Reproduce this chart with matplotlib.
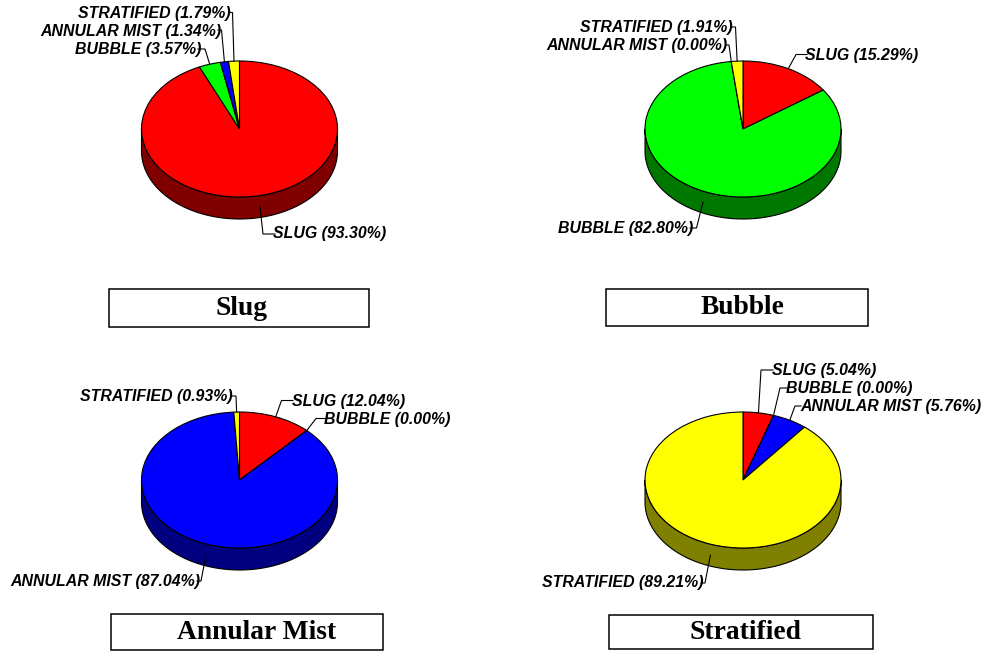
import numpy as np
import matplotlib
matplotlib.use("Agg")
import matplotlib.pyplot as plt
from matplotlib.patches import Rectangle

W, H = 982, 652

# Flow regime shares (percent) per test set, in clockwise order from 12 o'clock
regimes = ["SLUG", "BUBBLE", "ANNULAR MIST", "STRATIFIED"]
slug_values = [93.30, 3.57, 1.34, 1.79]
bubble_values = [15.29, 82.80, 0.00, 1.91]
annular_values = [12.04, 0.00, 87.04, 0.93]
stratified_values = [5.04, 0.00, 5.76, 89.21]
titles = ["Slug", "Bubble", "Annular Mist", "Stratified"]
top_colors = ["#ff0000", "#00ff00", "#0000ff", "#ffff00"]
side_colors = ["#800000", "#007800", "#000080", "#808000"]

RX, RY, DEPTH = 98, 68, 22
LW = 0.8

# Per-panel layout, in pixels from the top-left corner
panels = [
    dict(values=slug_values, cx=239.5, cy=129,
         box=(109.5, 288.5, 369.5, 327), title_at=(242, 308.5),
         # (text x, text y, ha, elbow x, elbow y, stub end x)
         labels=[(273, 233.5, "left", 263, 234, 275),
                 (201, 49.5, "right", 205, 49, 198),
                 (221, 31.5, "right", 221.5, 30, 218),
                 (231, 13.5, "right", 232.5, 12.5, 229)]),
    dict(values=bubble_values, cx=743, cy=129,
         box=(606.5, 288.5, 868, 325.5), title_at=(743, 307.5),
         labels=[(805, 55.5, "left", 796, 54.5, 807),
                 (693, 228.5, "right", 696.5, 228, 690),
                 (727, 45.5, "right", 729, 45, 726),
                 (733, 27.5, "right", 735.5, 27, 732)]),
    dict(values=annular_values, cx=239.5, cy=480,
         box=(111, 614, 383.5, 650), title_at=(256.5, 632.5),
         labels=[(292, 401.5, "left", 281.5, 400.5, 293),
                 (324, 419.5, "left", 316, 418.5, 326),
                 (200, 581.5, "right", 201, 581, 197),
                 (233, 396.5, "right", 236, 396, 232)]),
    dict(values=stratified_values, cx=743, cy=480,
         box=(609.5, 614.5, 873, 649), title_at=(745.5, 632.5),
         labels=[(772, 370.5, "left", 761, 370, 773),
                 (786, 388.5, "left", 780, 388, 787),
                 (800, 406.5, "left", 795, 406, 801),
                 (704, 582.5, "right", 705, 583, 701)]),
]

fig = plt.figure(figsize=(W / 100, H / 100), dpi=100, facecolor="white")


def draw_side(ax, values):
    """Extrude the front half of the pie downward, one band per slice."""
    total = sum(values)
    depth = DEPTH / RY
    start = 0.0
    for val, col in zip(values, side_colors):
        end = start + val / total * 360
        lo, hi = max(start, 90), min(end, 270)
        if hi > lo:
            ang = np.radians(np.linspace(lo, hi, 120))
            x, y = np.sin(ang), np.cos(ang)
            ax.fill(np.r_[x, x[::-1]], np.r_[y, y[::-1] - depth],
                    facecolor=col, edgecolor="black", lw=LW, clip_on=False,
                    joinstyle="round", zorder=1)
        start = end


for p in panels:
    ax = fig.add_axes([(p["cx"] - RX) / W, 1 - (p["cy"] + RY) / H,
                       2 * RX / W, 2 * RY / H])
    draw_side(ax, p["values"])
    wedges, _ = ax.pie(p["values"], colors=top_colors, startangle=90,
                       counterclock=False, radius=1,
                       wedgeprops=dict(edgecolor="black", linewidth=LW,
                                       clip_on=False, zorder=2))
    ax.set_xlim(-1, 1)
    ax.set_ylim(-1, 1)
    ax.set_aspect("auto")
    ax.axis("off")

# Overlay in pixel coordinates for leaders, labels and caption boxes
ov = fig.add_axes([0, 0, 1, 1], facecolor="none")
ov.set_xlim(0, W)
ov.set_ylim(H, 0)
ov.axis("off")

for p, title in zip(panels, titles):
    total = sum(p["values"])
    cum = 0.0
    for name, val, lab in zip(regimes, p["values"], p["labels"]):
        mid = (cum + val / 2) / total * 2 * np.pi
        cum += val
        tx, ty, ha, ex, ey, sx = lab
        x0 = p["cx"] + RX * np.sin(mid)
        y0 = p["cy"] - RY * np.cos(mid)
        if np.cos(mid) < 0:
            y0 += DEPTH / 2
        ov.plot([x0, ex, sx], [y0, ey, ey], color="black", lw=LW,
                solid_joinstyle="miter", zorder=3)
        ov.text(tx, ty, f"{name} ({val:.2f}%)", ha=ha, va="center",
                family="Liberation Sans", weight="bold", style="italic",
                fontsize=11.45, color="black", zorder=4)
    x1, y1, x2, y2 = p["box"]
    ov.add_patch(Rectangle((x1, y1), x2 - x1, y2 - y1, facecolor="white",
                           edgecolor="black", lw=1.1))
    ov.text(*p["title_at"], title, ha="center", va="center",
            family="Liberation Serif", weight="bold", fontsize=19.8,
            color="black")

fig.savefig("out.png", dpi=100, facecolor="white")
